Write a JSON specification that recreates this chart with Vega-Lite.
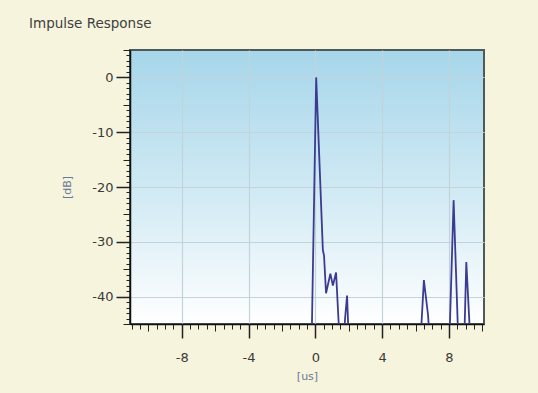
{
  "$schema": "https://vega.github.io/schema/vega-lite/v6.json",
  "width": 354,
  "height": 274,
  "autosize": {"type": "none"},
  "padding": {"left": 130, "top": 50, "right": 54, "bottom": 69},
  "background": "#f6f4dc",
  "title": {"text": "Impulse Response", "anchor": "start", "frame": "group", "dx": -101, "offset": 19, "fontSize": 13.5, "fontWeight": "normal", "font": "DejaVu Sans", "color": "#404040"},
  "config": {
    "view": {
      "fill": {"gradient": "linear", "x1": 0, "y1": 0, "x2": 0, "y2": 1, "stops": [{"offset": 0, "color": "#a6d6ea"}, {"offset": 0.5, "color": "#cfe9f3"}, {"offset": 1, "color": "#ffffff"}]},
      "stroke": "#4d5a5a",
      "strokeWidth": 2
    },
    "axis": {"labelFont": "DejaVu Sans", "titleFont": "DejaVu Sans", "labelColor": "#3a3a3a", "titleColor": "#6a7898", "titleFontWeight": "normal", "titleFontSize": 11, "labelFontSize": 13, "domainColor": "#111111", "tickColor": "#222222"}
  },
  "data": {"values": [
    {"t": -11, "db": -48},
    {"t": -0.22, "db": -48},
    {"t": 0.05, "db": 0},
    {"t": 0.45, "db": -31.5},
    {"t": 0.52, "db": -32.5},
    {"t": 0.64, "db": -39.4},
    {"t": 0.9, "db": -35.8},
    {"t": 1.05, "db": -38},
    {"t": 1.24, "db": -35.6},
    {"t": 1.45, "db": -48},
    {"t": 1.7, "db": -48},
    {"t": 1.78, "db": -44},
    {"t": 1.9, "db": -39.8},
    {"t": 2.0, "db": -48},
    {"t": 6.3, "db": -48},
    {"t": 6.5, "db": -37},
    {"t": 6.75, "db": -43.4},
    {"t": 6.85, "db": -48},
    {"t": 8.03, "db": -48},
    {"t": 8.28, "db": -22.4},
    {"t": 8.56, "db": -48},
    {"t": 8.92, "db": -48},
    {"t": 9.04, "db": -33.7},
    {"t": 9.28, "db": -48},
    {"t": 10, "db": -48}
  ]},
  "layer": [
    {
      "mark": {"type": "line", "opacity": 0},
      "encoding": {
        "x": {"field": "t", "type": "quantitative", "scale": {"domain": [-11.1, 10.1], "nice": false, "zero": false},
          "axis": {"orient": "bottom", "values": [-11, -10.5, -9.5, -9, -8.5, -7.5, -7, -6.5, -5.5, -5, -4.5, -3.5, -3, -2.5, -1.5, -1, -0.5, 0.5, 1, 1.5, 2.5, 3, 3.5, 4.5, 5, 5.5, 6.5, 7, 7.5, 8.5, 9, 9.5], "labels": false, "grid": false, "domain": false, "tickSize": 5, "title": null}},
        "y": {"field": "db", "type": "quantitative", "scale": {"domain": [-45, 5], "nice": false, "zero": false},
          "axis": {"orient": "left", "values": [-44, -43, -42, -41, -39, -38, -37, -36, -34, -33, -32, -31, -29, -28, -27, -26, -24, -23, -22, -21, -19, -18, -17, -16, -14, -13, -12, -11, -9, -8, -7, -6, -4, -3, -2, -1, 1, 2, 3, 4], "labels": false, "grid": false, "domain": false, "tickSize": 4, "title": null}}
      }
    },
    {
      "mark": {"type": "line", "opacity": 0},
      "encoding": {
        "x": {"field": "t", "type": "quantitative",
          "axis": {"orient": "bottom", "values": [-10, -6, -2, 2, 6, 10], "labels": false, "grid": false, "domain": false, "tickSize": 7, "title": null}},
        "y": {"field": "db", "type": "quantitative",
          "axis": {"orient": "left", "values": [-45, -35, -25, -15, -5, 5], "labels": false, "grid": false, "domain": false, "tickSize": 7, "title": null}}
      }
    },
    {
      "mark": {"type": "line", "color": "#3b3b92", "strokeWidth": 1.8, "clip": true},
      "encoding": {
        "x": {"field": "t", "type": "quantitative",
          "axis": {"orient": "bottom", "values": [-8, -4, 0, 4, 8], "labelExpr": "replace(datum.label, '\u2212', '-')", "grid": true, "gridColor": "#c4d2da", "gridWidth": 1.2, "tickSize": 14, "tickWidth": 1.5, "labelPadding": 13, "domainWidth": 1.5, "title": "[us]", "titlePadding": 6}},
        "y": {"field": "db", "type": "quantitative",
          "axis": {"orient": "left", "values": [-40, -30, -20, -10, 0], "labelExpr": "replace(datum.label, '\u2212', '-')", "grid": true, "gridColor": "#c4d2da", "gridWidth": 1.2, "tickSize": 14, "tickWidth": 1.5, "labelPadding": 3, "domainWidth": 1.5, "title": "[dB]", "titlePadding": 19}}
      }
    }
  ],
  "resolve": {"axis": {"x": "independent", "y": "independent"}}
}
